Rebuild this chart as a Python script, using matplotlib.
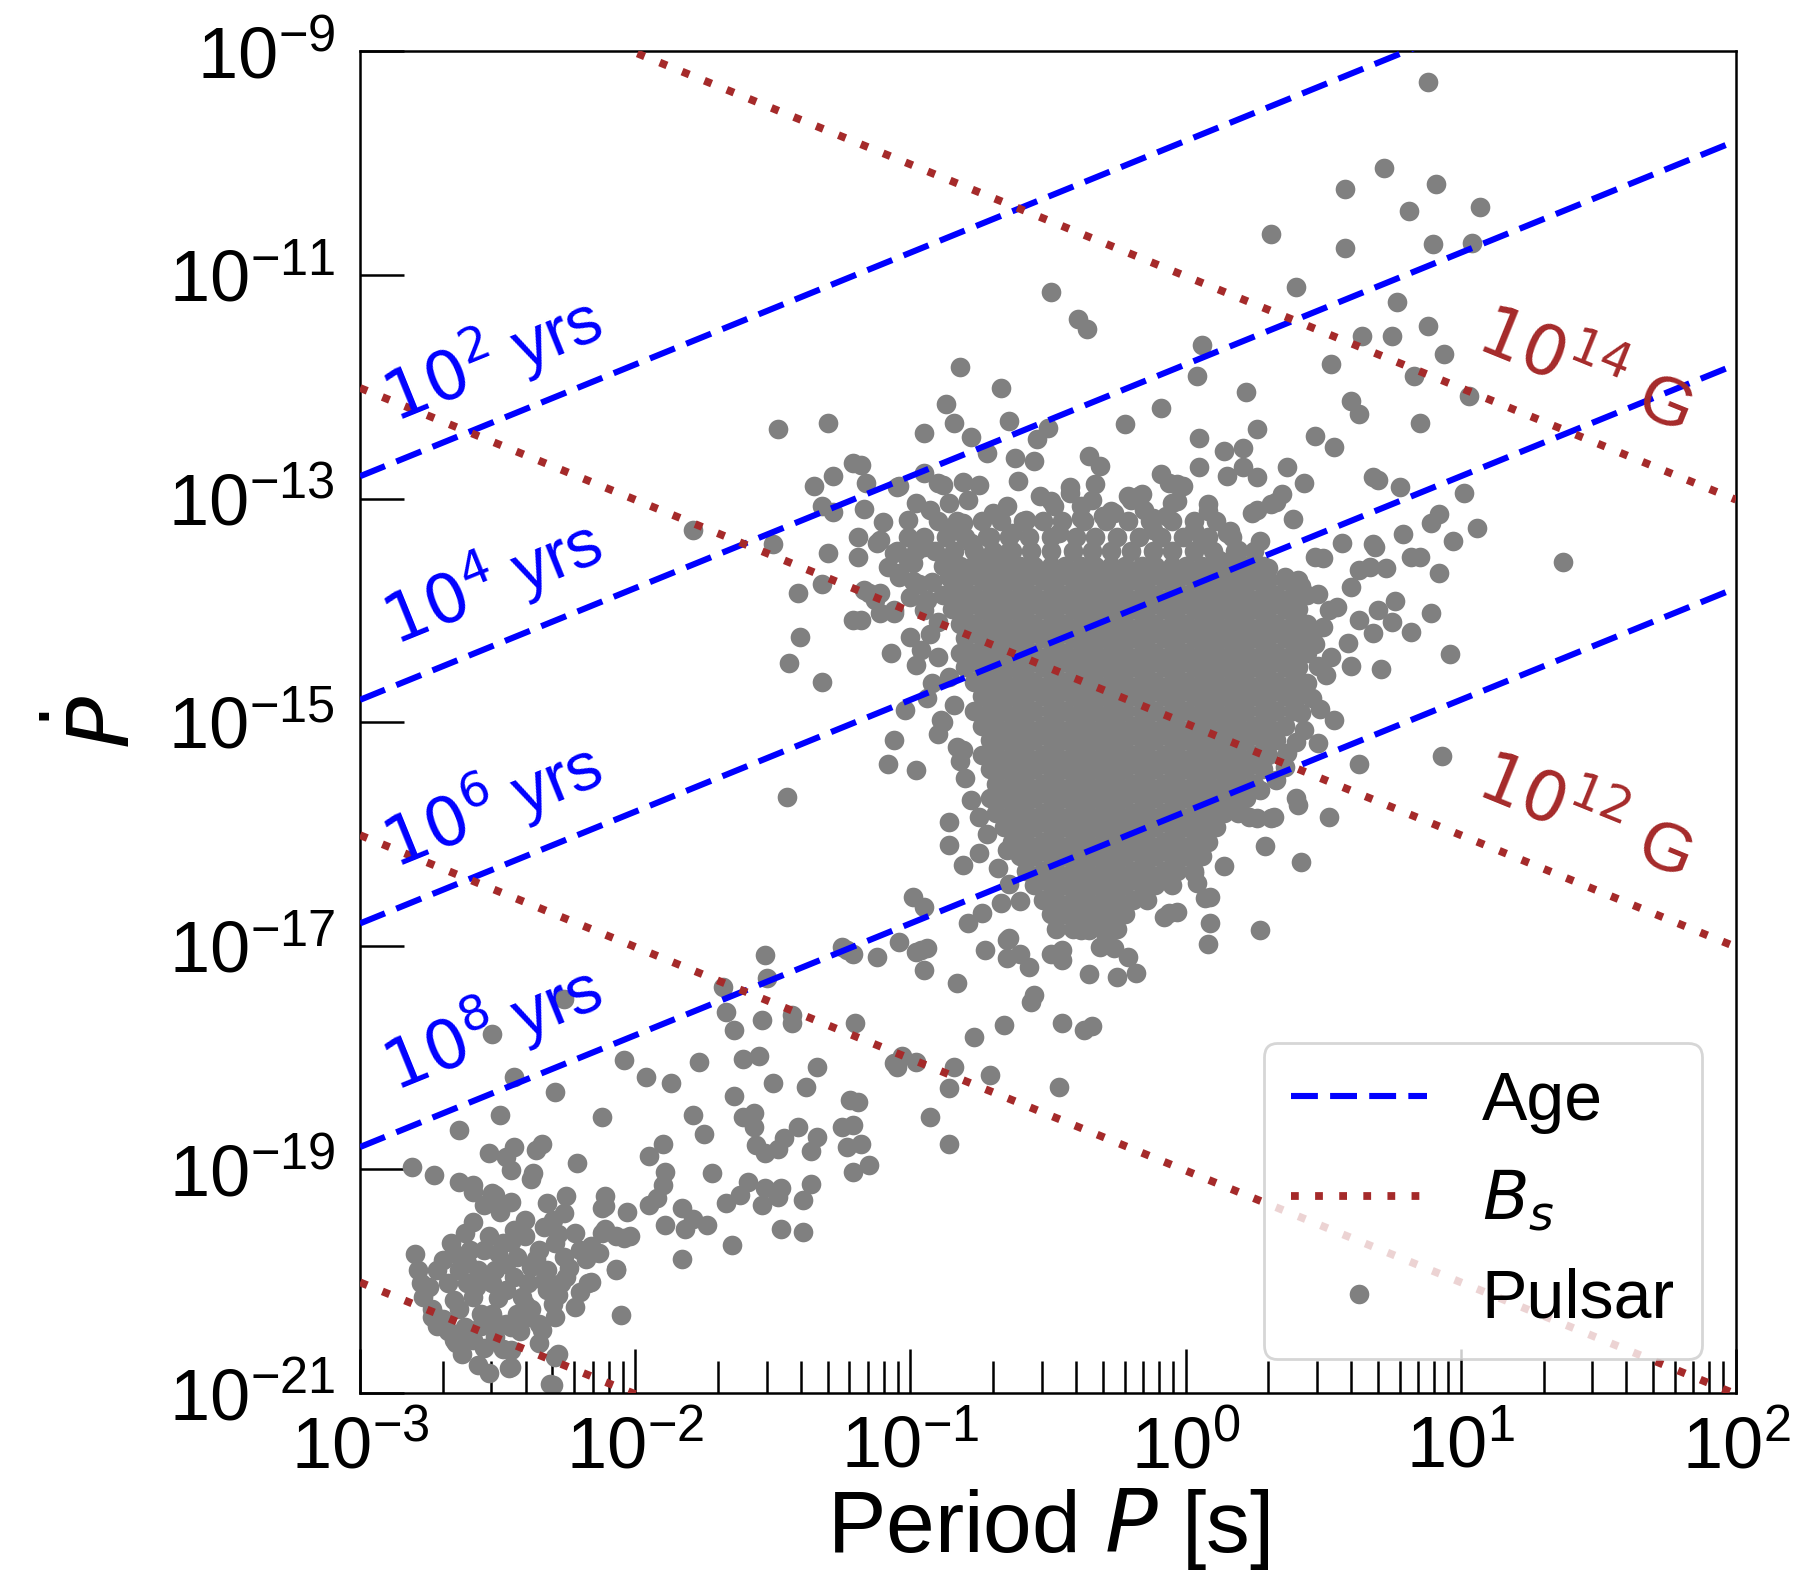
import numpy as np
import matplotlib
matplotlib.use("Agg")
import matplotlib.pyplot as plt
from matplotlib.ticker import LogLocator, NullLocator
from matplotlib.lines import Line2D

plt.rcParams['font.family'] = ['Liberation Sans', 'DejaVu Sans']
plt.rcParams['mathtext.fontset'] = 'dejavusans'

# ---------------------------------------------------------------------------
# Pulsar catalogue, stored as (log10 P [s], log10 Pdot)
# ---------------------------------------------------------------------------
young_points = [
    (0.88, -9.27), (0.72, -10.04), (0.58, -10.23), (0.91, -10.19), (0.81, -10.43), (1.07, -10.39),
    (0.31, -10.63), (0.58, -10.76), (0.90, -10.72), (1.04, -10.71), (0.40, -11.11), (-0.49, -11.15),
    (-0.39, -11.39), (-0.36, -11.48), (0.77, -11.24), (0.06, -11.63), (0.64, -11.55), (0.75, -11.55),
    (0.88, -11.46), (0.53, -11.80), (0.94, -11.71), (0.83, -11.90), (0.04, -11.90), (1.03, -12.08),
    (0.22, -12.05), (-0.09, -12.19), (0.60, -12.13), (0.63, -12.24), (0.85, -12.32), (-0.22, -12.33),
    (0.26, -12.38), (-0.64, -12.31), (-0.67, -12.01), (0.05, -12.46), (0.47, -12.44), (0.54, -12.54),
    (0.14, -12.57), (0.21, -12.55), (-0.54, -12.47), (-0.50, -12.37), (-0.62, -12.64), (-0.55, -12.66),
    (-0.35, -12.62), (-0.31, -12.71), (0.05, -12.72), (0.15, -12.80), (0.21, -12.72), (0.26, -12.81),
    (0.37, -12.72), (0.43, -12.86), (0.68, -12.81), (0.70, -12.83), (0.78, -12.90), (1.01, -12.95),
    (0.92, -13.14), (0.89, -13.22), (1.06, -13.26), (0.79, -13.32), (0.97, -13.38), (0.57, -13.40),
    (0.68, -13.41), (-0.09, -12.78), (-0.03, -12.87), (-0.21, -12.98), (-0.16, -12.96), (-0.27, -13.11),
    (-0.03, -13.02), (0.08, -13.05), (0.08, -13.11), (0.24, -13.13), (0.31, -13.05), (0.35, -12.96),
    (0.39, -13.18), (-0.42, -12.90), (-0.33, -12.87), (-0.49, -13.02), (-0.61, -12.84), (-0.38, -13.17),
    (-0.12, -13.17), (0.16, -13.29), (0.27, -13.38),
]

midleft_points = [
    (-0.82, -11.82), (-1.48, -12.38), (-1.30, -12.32), (-0.84, -12.32), (-0.95, -12.41),
    (-0.78, -12.45), (-0.72, -12.59), (-1.21, -12.68), (-1.18, -12.70), (-1.28, -12.80), (-1.35, -12.89),
    (-1.32, -13.07), (-1.16, -12.86), (-1.17, -13.09), (-1.10, -13.21), (-1.19, -13.34), (-1.19, -13.52),
    (-1.30, -13.49), (-1.50, -13.41), (-1.41, -13.84), (-1.32, -13.76), (-1.21, -14.09), (-1.18, -14.09),
    (-1.40, -14.24), (-1.44, -14.47), (-1.32, -14.64), (-1.07, -14.38), (-0.95, -12.77), (-1.04, -12.89),
    (-0.90, -12.86), (-0.81, -12.85), (-0.75, -12.88), (-0.79, -13.01), (-0.98, -13.04), (-0.86, -13.04),
    (-1.01, -13.19), (-1.01, -13.34), (-0.85, -13.25), (-0.81, -13.22), (-1.11, -13.37), (-1.06, -13.49),
    (-0.95, -13.43), (-0.99, -13.58), (-1.08, -13.61), (-1.04, -13.70), (-0.97, -13.76), (-1.11, -13.84),
    (-1.15, -13.84), (-1.00, -13.88), (-1.06, -14.00), (-0.94, -13.91), (-0.87, -13.58), (-0.85, -13.73),
    (-0.78, -13.61), (-0.71, -13.55), (-0.71, -13.34), (-0.70, -13.13), (-0.65, -13.07), (-0.63, -13.31),
    (-0.65, -13.49), (-0.58, -13.19), (-0.53, -12.98), (-0.48, -13.07), (-0.46, -13.31), (-0.42, -12.95),
    (-0.38, -13.07), (-0.34, -13.01), (-0.30, -13.16), (-0.20, -13.01), (-0.17, -12.98), (-0.15, -13.10),
    (-0.26, -13.13), (-0.06, -12.86), (-0.01, -12.89), (-0.05, -13.04), (-0.07, -13.16), (-0.12, -13.28),
    (0.03, -13.28), (0.06, -13.37), (0.15, -13.31), (0.22, -13.61), (0.12, -13.55), (0.19, -13.46),
    (-1.28, -13.12), (-1.05, -12.90), (-0.88, -12.88), (-0.93, -13.10), (-0.78, -13.40), (-0.77, -13.64),
    (-0.70, -13.67), (-1.12, -13.40), (-1.01, -13.55), (-1.04, -13.67), (-0.99, -13.74), (-0.92, -13.75),
    (-0.86, -13.70), (-0.83, -13.85), (-1.13, -13.91), (-1.11, -14.02), (-1.06, -14.02), (-1.17, -13.82),
    (-1.00, -14.24), (-0.93, -14.21), (-0.98, -14.49), (-0.90, -14.42), (-0.94, -14.78), (-1.02, -14.89),
    (-1.06, -15.16), (-1.08, -15.37), (-0.98, -15.43), (-0.90, -15.11), (-0.83, -15.22), (-1.45, -15.67),
    (-1.79, -13.28), (-0.87, -12.15),
    (-0.95, -14.00), (-0.90, -14.10), (-0.96, -14.35), (-0.86, -14.60), (-0.92, -14.65), (-0.84, -14.85),
    (-0.88, -15.00), (-0.82, -15.35), (-0.80, -15.50), (-0.78, -15.70), (-0.75, -15.85), (-0.72, -16.00),
    (-0.68, -16.30), (-0.64, -16.45), (-0.60, -16.60),
]

right_points = [
    (0.33, -13.03), (0.26, -13.10), (0.69, -13.43), (0.82, -13.52), (0.85, -13.52), (1.37, -13.57),
    (0.92, -13.67), (0.50, -13.53), (0.63, -13.64), (0.67, -13.61), (0.73, -13.62), (0.60, -13.79),
    (0.47, -13.52), (0.55, -13.97), (0.63, -14.09), (0.70, -14.00), (0.76, -13.92), (0.75, -14.10),
    (0.82, -14.19), (0.89, -14.02), (0.68, -14.20), (0.59, -14.29), (0.96, -14.39), (0.60, -14.50),
    (0.71, -14.52), (0.51, -14.58), (0.44, -14.65), (0.54, -14.98), (0.43, -15.07), (0.48, -15.19),
    (0.63, -15.37), (0.93, -15.30), (0.40, -15.68), (0.41, -15.74), (0.52, -15.85), (0.26, -15.86),
    (0.31, -15.86), (0.29, -16.11), (0.42, -16.25), (0.27, -15.61), (0.37, -15.28),
    (0.30, -13.62), (0.36, -13.70), (0.42, -13.78), (0.48, -13.85), (0.52, -14.00), (0.50, -14.15),
    (0.47, -14.30), (0.53, -14.42), (0.48, -14.50), (0.46, -14.78), (0.49, -14.88), (0.42, -14.92),
    (0.40, -15.18), (0.36, -15.40), (0.33, -15.52),
]

lower_points = [
    (0.14, -16.29), (0.27, -16.86), (0.08, -16.98), (0.09, -16.80), (0.09, -16.56), (0.03, -16.35),
    (-0.06, -16.71), (-0.08, -16.74), (0.23, -15.85), (0.32, -15.85), (-0.86, -15.89), (-0.86, -16.10),
    (-0.81, -16.28), (-0.75, -16.17), (-0.65, -16.14), (-0.89, -14.98), (-0.81, -15.25),
    (-0.99, -16.56), (-0.95, -16.65), (-0.79, -16.80), (-0.74, -16.71), (-0.67, -16.62), (-0.73, -17.04),
    (-0.95, -17.22), (-0.96, -17.04), (-0.83, -17.33), (-0.65, -16.95), (-0.60, -17.07), (-0.57, -17.19),
    (-0.47, -17.07), (-0.35, -17.25), (-0.25, -17.28), (-0.18, -17.24), (-0.55, -17.44), (-0.21, -17.10),
    (-0.31, -17.01), (-1.04, -16.97), (-1.12, -17.10), (-1.21, -17.07), (-0.98, -17.06), (-0.94, -17.02),
    (-0.64, -16.93), (-0.65, -17.11), (-0.49, -17.07), (-0.45, -17.13), (-0.45, -17.04), (-0.26, -17.02),
    (-0.29, -16.92), (-0.35, -16.86), (-0.38, -16.86), (-0.56, -17.50), (-0.66, -17.71), (-0.77, -17.82),
    (-0.45, -17.69), (-0.37, -17.75), (-0.34, -17.72), (-0.03, -16.70), (0.07, -16.57), (0.04, -16.44),
    (0.21, -15.69), (-1.20, -17.69), (-1.03, -17.99), (-1.05, -18.08), (-0.98, -18.04), (-0.84, -18.08),
    (-0.86, -18.27), (-0.71, -18.16), (-0.46, -18.26), (-0.93, -18.53), (-1.19, -18.40), (-1.22, -18.38),
    (-0.86, -18.77),
]

bridge_points = [
    (-1.23, -17.04), (-1.25, -17.01), (-1.53, -17.08), (-1.52, -17.29), (-1.68, -17.37), (-1.67, -17.59),
    (-1.54, -17.66), (-1.64, -17.75), (-1.43, -17.62), (-1.43, -17.69), (-1.06, -18.05), (-2.04, -18.02),
    (-1.96, -18.17), (-1.87, -18.23), (-1.77, -18.04), (-1.61, -18.01), (-1.55, -17.99), (-1.50, -18.23),
    (-1.38, -18.26), (-1.34, -18.08), (-1.64, -18.34), (-1.79, -18.51), (-1.75, -18.68), (-1.61, -18.53),
    (-1.57, -18.50), (-1.57, -18.62), (-1.41, -18.62), (-1.25, -18.62), (-1.21, -18.60), (-1.34, -18.71),
    (-1.36, -18.84), (-1.56, -18.78), (-1.53, -18.85), (-1.48, -18.82), (-1.46, -18.72), (-1.23, -18.80),
    (-1.18, -18.77), (-1.21, -19.02), (-1.15, -18.96), (-2.12, -18.53), (-1.90, -18.77), (-1.95, -18.88),
    (-1.89, -19.02), (-1.90, -19.14), (-1.95, -19.32), (-1.92, -19.26), (-1.72, -19.03), (-1.59, -19.11),
    (-1.53, -19.17), (-1.47, -19.17), (-1.48, -19.25), (-1.62, -19.23), (-1.67, -19.30), (-1.54, -19.32),
    (-1.36, -19.13), (-1.39, -19.27), (-1.47, -19.53), (-1.39, -19.56), (-1.65, -19.68), (-2.12, -19.35),
    (-2.03, -19.38), (-1.89, -19.50), (-1.83, -19.35), (-1.79, -19.44), (-1.82, -19.53), (-1.74, -19.50),
    (-2.11, -19.53), (-2.04, -19.61), (-2.44, -18.17), (-2.29, -18.31), (-2.49, -18.51), (-2.64, -18.65),
    (-2.21, -18.94), (-2.34, -18.77), (-2.36, -18.83), (-2.44, -18.80), (-2.47, -18.89), (-2.45, -19.01),
    (-2.37, -19.03), (-2.38, -19.09), (-2.53, -18.85), (-2.81, -18.98), (-2.73, -19.05), (-2.64, -19.11),
    (-2.59, -19.14), (-2.59, -19.20), (-2.51, -19.23), (-2.45, -19.29), (-2.55, -19.32), (-2.49, -19.38),
    (-2.32, -19.30), (-2.25, -19.24), (-2.26, -19.39), (-2.11, -19.33), (-2.11, -19.24), (-1.83, -19.80),
    (-2.52, -19.21), (-2.07, -19.89), (-2.52, -17.79), (-2.26, -17.48),
]

msp_points = [
    (-2.80, -19.76), (-2.79, -19.90), (-2.78, -20.02), (-2.77, -20.14), (-2.73, -20.30), (-2.66, -20.17),
    (-2.70, -19.81), (-2.67, -19.66), (-2.62, -19.57), (-2.59, -19.47), (-2.60, -19.72), (-2.57, -19.90),
    (-2.61, -20.02), (-2.59, -20.14), (-2.56, -20.29), (-2.62, -20.41), (-2.66, -20.53), (-2.63, -20.65),
    (-2.57, -20.75), (-2.53, -20.82), (-2.59, -20.53), (-2.51, -20.50), (-2.48, -20.61), (-2.45, -20.77),
    (-2.45, -20.41), (-2.52, -20.29), (-2.52, -20.02), (-2.47, -20.08), (-2.51, -19.90), (-2.50, -19.75),
    (-2.48, -19.66), (-2.44, -19.54), (-2.40, -19.45), (-2.43, -19.78), (-2.44, -19.96), (-2.41, -20.14),
    (-2.43, -20.29), (-2.39, -20.02), (-2.38, -19.87), (-2.35, -19.72), (-2.32, -19.90), (-2.32, -20.08),
    (-2.30, -20.20), (-2.33, -19.52), (-2.29, -19.66), (-2.26, -19.78), (-2.25, -19.96), (-2.27, -20.02),
    (-2.22, -19.57), (-2.20, -19.72), (-2.22, -20.23), (-2.29, -20.32), (-2.34, -20.44), (-2.28, -20.65),
    (-2.31, -20.92), (-2.17, -20.02), (-2.16, -19.69), (-2.12, -19.57), (-2.07, -19.60), (-2.02, -19.60),
    (-2.13, -19.75), (-2.07, -19.90), (-2.05, -20.30), (-2.16, -20.01), (-2.70, -20.34), (-2.74, -20.25),
    (-2.68, -20.02), (-2.64, -19.90), (-2.55, -19.72), (-2.61, -19.84), (-2.40, -20.20), (-2.35, -20.38),
    (-2.47, -20.38), (-2.74, -20.32), (-2.65, -20.55), (-2.46, -20.78), (-2.29, -20.68), (-2.30, -20.93),
    (-2.55, -19.95), (-2.50, -20.15), (-2.47, -19.85), (-2.42, -20.45), (-2.38, -20.25), (-2.36, -19.80),
    (-2.33, -20.00), (-2.28, -20.12), (-2.24, -19.88), (-2.20, -20.10), (-2.18, -19.80), (-2.64, -20.25),
    (-2.56, -20.40), (-2.50, -20.38), (-2.58, -20.05), (-2.66, -19.75), (-2.72, -19.90), (-2.75, -20.05),
    (-2.62, -20.47), (-2.40, -19.60), (-2.53, -19.60), (-2.45, -19.65), (-2.30, -19.45), (-2.28, -19.58),
    (-2.41, -20.35), (-2.35, -20.55), (-2.45, -20.62), (-2.55, -20.60), (-2.68, -20.45), (-2.72, -20.40),
]

# Densely populated body of the normal-pulsar population, one row per log10 Pdot
core_rows = [
    (-13.20, [-0.90, -0.83, -0.74, -0.67, -0.59, -0.52, -0.45, -0.37, -0.29, -0.21, -0.13, -0.05, 0.03, 0.11]),
    (-13.34, [-0.95, -0.87, -0.80, -0.72, -0.64, -0.57, -0.49, -0.40, -0.33, -0.25, -0.17, -0.09, -0.01,
              0.08, 0.17]),
    (-13.47, [-1.05, -0.98, -0.91, -0.84, -0.77, -0.70, -0.63, -0.56, -0.49, -0.41, -0.34, -0.27, -0.20,
              -0.12, -0.05, 0.03, 0.10, 0.18, 0.25]),
    (-13.60, [-0.88, -0.82, -0.77, -0.71, -0.66, -0.60, -0.55, -0.49, -0.44, -0.38, -0.33, -0.27, -0.22,
              -0.16, -0.11, -0.05, 0.00, 0.06, 0.11, 0.17, 0.22, 0.28]),
    (-13.73, [-0.85, -0.80, -0.74, -0.69, -0.63, -0.58, -0.52, -0.47, -0.41, -0.36, -0.30, -0.25, -0.19,
              -0.14, -0.08, -0.03, 0.03, 0.08, 0.14, 0.19, 0.25, 0.30, 0.36, 0.41]),
    (-13.86, [-0.88, -0.82, -0.77, -0.71, -0.66, -0.60, -0.55, -0.49, -0.44, -0.38, -0.33, -0.27, -0.22,
              -0.16, -0.11, -0.05, 0.00, 0.06, 0.11, 0.17, 0.22, 0.28, 0.33, 0.39, 0.44]),
    (-13.99, [-0.85, -0.80, -0.74, -0.69, -0.63, -0.58, -0.52, -0.47, -0.41, -0.36, -0.30, -0.25, -0.19,
              -0.14, -0.08, -0.03, 0.03, 0.08, 0.14, 0.19, 0.25, 0.30, 0.36, 0.41]),
    (-14.12, [-0.82, -0.77, -0.71, -0.66, -0.60, -0.55, -0.49, -0.44, -0.38, -0.33, -0.27, -0.22, -0.16,
              -0.11, -0.05, 0.00, 0.06, 0.11, 0.17, 0.22, 0.28, 0.33, 0.39, 0.44]),
    (-14.25, [-0.80, -0.74, -0.69, -0.63, -0.58, -0.52, -0.47, -0.41, -0.36, -0.30, -0.25, -0.19, -0.14,
              -0.08, -0.03, 0.03, 0.08, 0.14, 0.19, 0.25, 0.30, 0.36, 0.41, 0.46]),
    (-14.38, [-0.82, -0.77, -0.71, -0.66, -0.60, -0.55, -0.49, -0.44, -0.38, -0.33, -0.27, -0.22, -0.16,
              -0.11, -0.05, 0.00, 0.06, 0.11, 0.17, 0.22, 0.28, 0.33, 0.39, 0.44]),
    (-14.51, [-0.80, -0.74, -0.69, -0.63, -0.58, -0.52, -0.47, -0.41, -0.36, -0.30, -0.25, -0.19, -0.14,
              -0.08, -0.03, 0.03, 0.08, 0.14, 0.19, 0.25, 0.30, 0.36, 0.41]),
    (-14.64, [-0.77, -0.71, -0.66, -0.60, -0.55, -0.49, -0.44, -0.38, -0.33, -0.27, -0.22, -0.16, -0.11,
              -0.05, 0.00, 0.06, 0.11, 0.17, 0.22, 0.28, 0.33, 0.39]),
    (-14.77, [-0.74, -0.69, -0.63, -0.58, -0.52, -0.47, -0.41, -0.36, -0.30, -0.25, -0.19, -0.14, -0.08,
              -0.03, 0.03, 0.08, 0.14, 0.19, 0.25, 0.30, 0.36, 0.41]),
    (-14.90, [-0.77, -0.71, -0.66, -0.60, -0.55, -0.49, -0.44, -0.38, -0.33, -0.27, -0.22, -0.16, -0.11,
              -0.05, 0.00, 0.06, 0.11, 0.17, 0.22, 0.28, 0.33, 0.39]),
    (-15.03, [-0.74, -0.69, -0.63, -0.58, -0.52, -0.47, -0.41, -0.36, -0.30, -0.25, -0.19, -0.14, -0.08,
              -0.03, 0.03, 0.08, 0.14, 0.19, 0.25, 0.30, 0.36]),
    (-15.16, [-0.71, -0.66, -0.60, -0.55, -0.49, -0.44, -0.38, -0.33, -0.27, -0.22, -0.16, -0.11, -0.05,
              0.00, 0.06, 0.11, 0.17, 0.22, 0.28, 0.33]),
    (-15.29, [-0.74, -0.69, -0.63, -0.58, -0.52, -0.47, -0.41, -0.36, -0.30, -0.25, -0.19, -0.14, -0.08,
              -0.03, 0.03, 0.08, 0.14, 0.19, 0.25, 0.30]),
    (-15.42, [-0.71, -0.66, -0.60, -0.55, -0.49, -0.44, -0.38, -0.33, -0.27, -0.22, -0.16, -0.11, -0.05,
              0.00, 0.06, 0.11, 0.17, 0.22, 0.28]),
    (-15.55, [-0.69, -0.63, -0.58, -0.52, -0.47, -0.41, -0.36, -0.30, -0.25, -0.19, -0.14, -0.08, -0.03,
              0.03, 0.08, 0.14, 0.19, 0.25]),
    (-15.68, [-0.71, -0.66, -0.60, -0.55, -0.49, -0.44, -0.38, -0.33, -0.27, -0.22, -0.16, -0.11, -0.05,
              0.00, 0.06, 0.11, 0.17, 0.22]),
    (-15.81, [-0.69, -0.63, -0.58, -0.52, -0.47, -0.41, -0.36, -0.30, -0.25, -0.19, -0.14, -0.08, -0.03,
              0.03, 0.08, 0.14, 0.19]),
    (-15.94, [-0.66, -0.60, -0.55, -0.49, -0.44, -0.38, -0.33, -0.27, -0.22, -0.16, -0.11, -0.05, 0.00,
              0.06, 0.11]),
    (-16.07, [-0.63, -0.58, -0.52, -0.47, -0.41, -0.36, -0.30, -0.25, -0.19, -0.14, -0.08, -0.03, 0.03, 0.08]),
    (-16.20, [-0.60, -0.55, -0.49, -0.44, -0.38, -0.33, -0.27, -0.22, -0.16, -0.11, -0.05, 0.00, 0.06]),
    (-16.33, [-0.58, -0.52, -0.47, -0.41, -0.36, -0.30, -0.25, -0.19, -0.14, -0.08, -0.03, 0.03]),
    (-16.46, [-0.55, -0.49, -0.44, -0.38, -0.33, -0.27, -0.22, -0.16, -0.11, -0.05]),
    (-16.59, [-0.52, -0.47, -0.41, -0.36, -0.30, -0.25, -0.19, -0.14]),
    (-16.72, [-0.49, -0.44, -0.38, -0.33, -0.27, -0.22]),
    (-16.85, [-0.47, -0.41, -0.36, -0.30, -0.25]),
]

# Reference lines: characteristic age and surface dipole field
age_years = [1e2, 1e4, 1e6, 1e8]
field_gauss = [1e8, 1e10, 1e12, 1e14]
age_texts = [r'$10^2$ yrs', r'$10^4$ yrs', r'$10^6$ yrs', r'$10^8$ yrs']
field_texts = [r'$10^{12}$ G', r'$10^{14}$ G']

SECONDS_PER_YEAR = 3.156e7
B_COEFF = 3.2e19

AGE_COLOR = 'blue'
FIELD_COLOR = '#a52a2a'
DOT_COLOR = '#808080'
AGE_STYLE = (0, (4.4, 2.0))
FIELD_STYLE = (0, (1, 2.1))

# ---------------------------------------------------------------------------
pts = young_points + midleft_points + right_points + lower_points + bridge_points + msp_points
for lpd, lps in core_rows:
    pts += [(lp, lpd) for lp in lps]
pts = np.array(pts)
period = 10.0 ** pts[:, 0]
pdot = 10.0 ** pts[:, 1]

fig = plt.figure(figsize=(17.93, 15.82), dpi=100)
ax = fig.add_axes([0.2008, 0.1195, 0.7674, 0.848])
ax.set_xscale('log')
ax.set_yscale('log')

ax.scatter(period, pdot, s=200, c=DOT_COLOR, linewidths=0, zorder=2)

p_line = np.array([1e-3, 1e2])
for tau in age_years:
    ax.plot(p_line, p_line / (2.0 * tau * SECONDS_PER_YEAR), color=AGE_COLOR,
            ls=AGE_STYLE, lw=4.4, zorder=3)
for b in field_gauss:
    ax.plot(p_line, (b / B_COEFF) ** 2 / p_line, color=FIELD_COLOR,
            ls=FIELD_STYLE, lw=5.6, zorder=3)

# Line annotations
age_label_logp = -2.52
age_label_logpdot = [-11.74, -13.74, -15.73, -17.73]
for txt, lpd in zip(age_texts, age_label_logpdot):
    ax.text(10 ** age_label_logp, 10 ** lpd, txt, color=AGE_COLOR, fontsize=49,
            rotation=22.1, rotation_mode='anchor', ha='center', va='center', zorder=4)

field_label_logp = 1.447
field_label_logpdot = [-15.85, -11.86]
for txt, lpd in zip(field_texts, field_label_logpdot):
    ax.text(10 ** field_label_logp, 10 ** lpd, txt, color=FIELD_COLOR, fontsize=50,
            rotation=-22.1, rotation_mode='anchor', ha='center', va='center', zorder=4)

ax.set_xlim(1e-3, 1e2)
ax.set_ylim(1e-21, 1e-9)

ax.set_xticks([10.0 ** e for e in range(-3, 3)])
ax.xaxis.set_minor_locator(LogLocator(base=10, subs=np.arange(2, 10), numticks=20))
ax.set_yticks([10.0 ** e for e in range(-21, -8, 2)])
ax.yaxis.set_minor_locator(NullLocator())

ax.tick_params(which='major', direction='in', length=32, width=1.8, labelsize=52)
ax.tick_params(which='minor', direction='in', length=23, width=1.8)
ax.tick_params(axis='x', which='major', pad=16)
ax.tick_params(axis='y', which='major', pad=18)
ax.tick_params(top=False, right=False)
for sp in ax.spines.values():
    sp.set_linewidth(1.8)

ax.set_xlabel(r'Period $P$ [s]', fontsize=63, labelpad=2)
ax.set_ylabel(r'$\dot{P}$', fontsize=62, labelpad=15)

handles = [
    Line2D([], [], color=AGE_COLOR, ls=AGE_STYLE, lw=4.4),
    Line2D([], [], color=FIELD_COLOR, ls=FIELD_STYLE, lw=5.6),
    Line2D([], [], color=DOT_COLOR, ls='none', marker='o', markersize=14.1, markeredgewidth=0),
]
leg = ax.legend(handles, ['Age', r'$B_s$', 'Pulsar'], loc='lower right', fontsize=49,
                labelspacing=0.5, framealpha=0.8, edgecolor='0.8')
leg.get_frame().set_linewidth(2.0)
leg.set_zorder(5)

fig.savefig('out.png', dpi=100)
